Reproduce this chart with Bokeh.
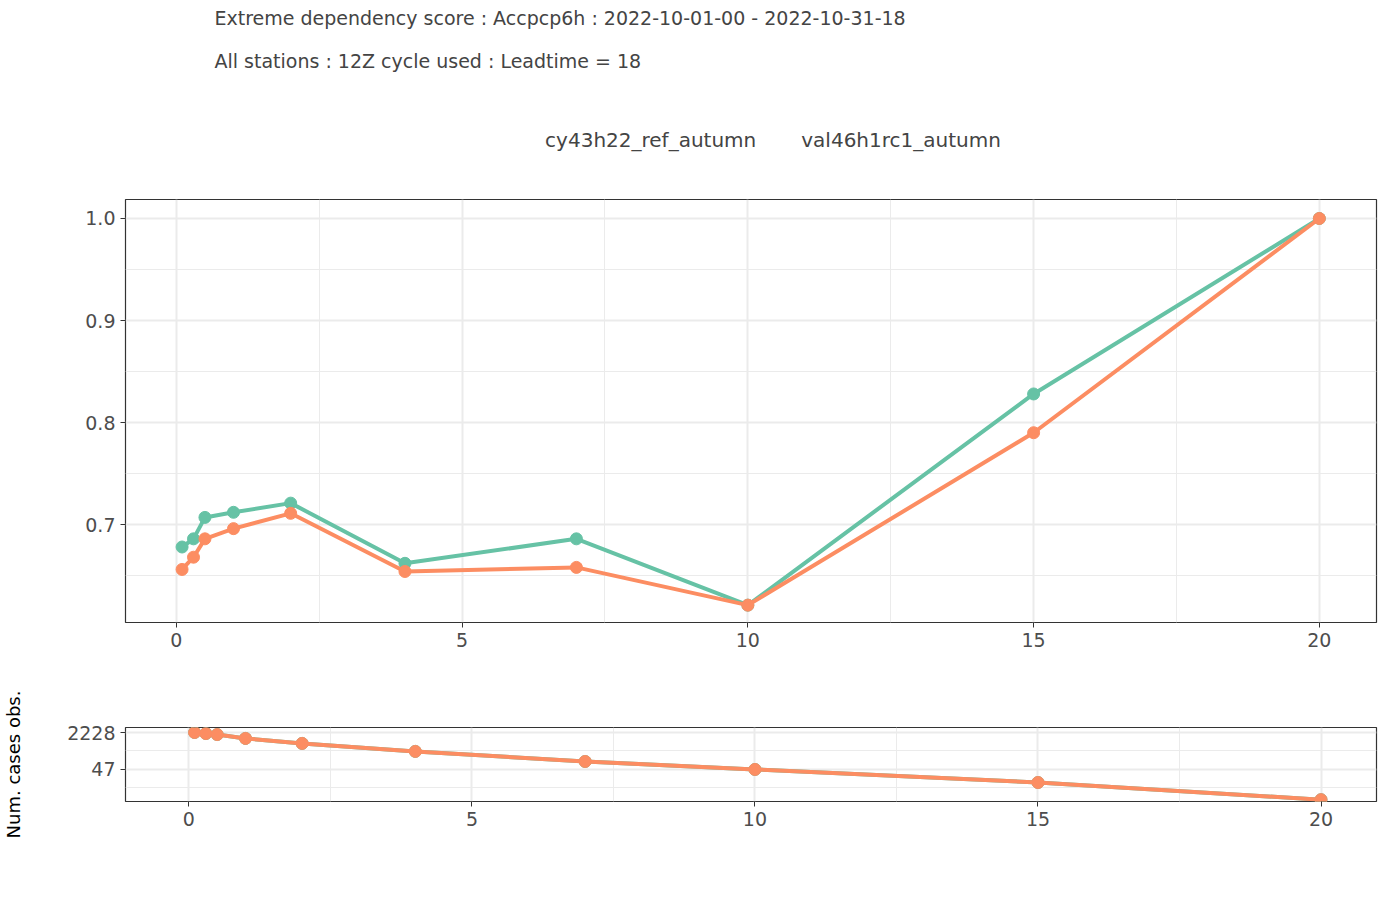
from bokeh.embed import file_html
from bokeh.resources import INLINE
from bokeh.layouts import column
from bokeh.models import (Range1d, FixedTicker, Legend, LegendItem, Label,
                          PrintfTickFormatter)
from bokeh.plotting import figure

thresholds = [0.1, 0.3, 0.5, 1, 2, 4, 7, 10, 15, 20]
eds_ref = [0.678, 0.686, 0.707, 0.712, 0.721, 0.662, 0.686, 0.621, 0.828, 1.0]
eds_val = [0.656, 0.668, 0.686, 0.696, 0.711, 0.654, 0.658, 0.621, 0.790, 1.0]
num_obs = [2228, 2000, 1800, 1200, 715, 310, 108, 47, 12, 2]
series = ["cy43h22_ref_autumn", "val46h1rc1_autumn"]

GREEN = "#66C2A5"
ORANGE = "#FC8D62"
FONT = "DejaVu Sans"


def style(p):
    p.background_fill_color = "white"
    p.border_fill_color = "white"
    p.outline_line_color = "#333333"
    p.outline_line_width = 1.2
    for ax in p.axis:
        ax.axis_line_color = None
        ax.major_tick_line_color = "#333333"
        ax.major_tick_out = 5
        ax.major_tick_in = 0
        ax.minor_tick_line_color = None
        ax.major_label_text_color = "#4D4D4D"
        ax.major_label_text_font = FONT
        ax.major_label_text_font_size = "19px"
        ax.axis_label_text_font = FONT
        ax.axis_label_text_font_style = "normal"
        ax.axis_label_text_color = "black"
    for g in p.grid:
        g.grid_line_color = "#EBEBEB"
        g.grid_line_width = 2
        g.minor_grid_line_color = "#EBEBEB"
        g.minor_grid_line_width = 1


# --- header: titles + legend ---
h = figure(width=1392, height=192, output_backend="svg", toolbar_location=None,
           x_range=Range1d(0, 1392), y_range=Range1d(192, 0),
           min_border=0, outline_line_color=None)
h.axis.visible = False
h.grid.visible = False
h.add_layout(Label(x=99, y=17, text="Extreme dependency score : Accpcp6h : 2022-10-01-00 - 2022-10-31-18",
                   text_font=FONT, text_font_size="19px", text_baseline="middle"))
h.add_layout(Label(x=99, y=60, text="All stations : 12Z cycle used : Leadtime = 18",
                   text_font=FONT, text_font_size="19px", text_baseline="middle"))
hl1 = h.line([], [], line_color=GREEN, line_width=4)
hc1 = h.scatter([], [], size=12, color=GREEN)
hl2 = h.line([], [], line_color=ORANGE, line_width=4)
hc2 = h.scatter([], [], size=12, color=ORANGE)
legend = Legend(items=[LegendItem(label=series[0], renderers=[hl1, hc1]),
                       LegendItem(label=series[1], renderers=[hl2, hc2])],
                orientation="horizontal", location="bottom_center",
                label_text_font=FONT, label_text_font_size="20px",
                border_line_color=None, background_fill_alpha=0,
                glyph_width=40, spacing=0, margin=40, padding=4)
h.add_layout(legend, "center")

# --- main panel ---
p = figure(width=1392, height=470, output_backend="svg", toolbar_location=None,
           x_range=Range1d(-0.89, 21.0), y_range=Range1d(0.604, 1.0186),
           min_border_left=99, min_border_right=16, min_border_top=7,
           min_border_bottom=40)
p.xaxis.ticker = FixedTicker(ticks=[0, 5, 10, 15, 20], minor_ticks=[2.5, 7.5, 12.5, 17.5])
p.yaxis.ticker = FixedTicker(ticks=[0.7, 0.8, 0.9, 1.0], minor_ticks=[0.65, 0.75, 0.85, 0.95])
p.yaxis.formatter = PrintfTickFormatter(format="%.1f")
style(p)

p.line(thresholds, eds_ref, line_color=GREEN, line_width=4)
p.scatter(thresholds, eds_ref, size=12, color=GREEN)
p.line(thresholds, eds_val, line_color=ORANGE, line_width=4)
p.scatter(thresholds, eds_val, size=12, color=ORANGE)

# --- counts panel ---
q = figure(width=1392, height=228, output_backend="svg", toolbar_location=None,
           x_range=Range1d(-1.12, 20.98), y_range=Range1d(1.65, 3758),
           y_axis_type="log", min_border_left=112, min_border_right=16,
           min_border_top=65, min_border_bottom=89)
q.xaxis.ticker = FixedTicker(ticks=[0, 5, 10, 15, 20], minor_ticks=[2.5, 7.5, 12.5, 17.5])
q.yaxis.ticker = FixedTicker(ticks=[47, 2228], minor_ticks=[324, 6.8])
q.yaxis.formatter = PrintfTickFormatter(format="%d")
q.yaxis.axis_label = "Num. cases obs."
q.yaxis.axis_label_text_font_size = "18px"
q.yaxis.axis_label_standoff = 40
style(q)
q.add_layout(Label(x=9.8, y=460000, text="Threshold", text_font=FONT,
                   text_font_size="20px", text_align="center", text_baseline="middle"))

q.line(thresholds, num_obs, line_color=GREEN, line_width=4)
q.scatter(thresholds, num_obs, size=12, color=GREEN)
q.line(thresholds, num_obs, line_color=ORANGE, line_width=4)
q.scatter(thresholds, num_obs, size=12, color=ORANGE)

layout = column(h, p, q, spacing=0)
open("out.html", "w").write(file_html(layout, INLINE))
